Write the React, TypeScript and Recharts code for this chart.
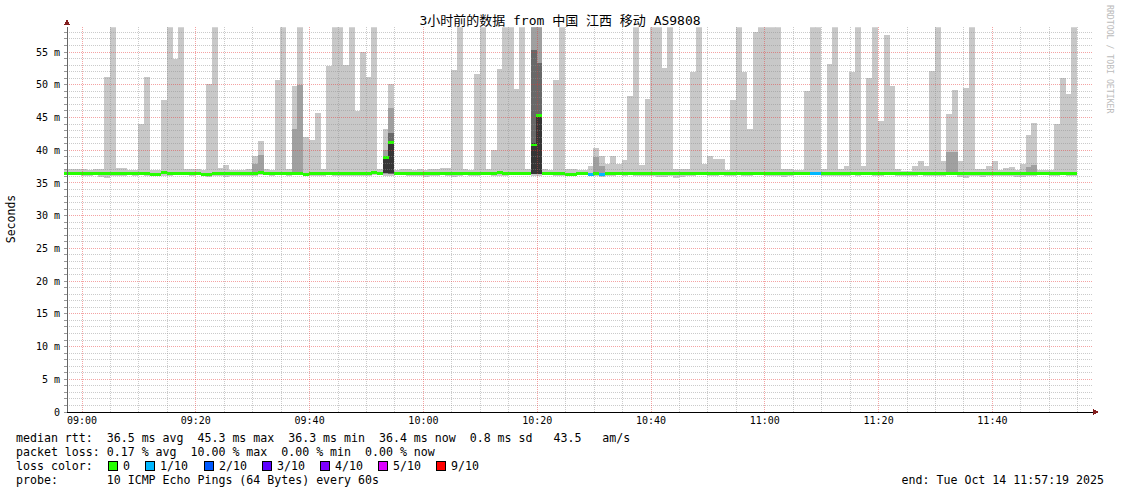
import React from "react"
import { ComposedChart, Bar, Cell, XAxis, YAxis, ReferenceLine } from "recharts"

// one column per minute, first column centred at 08:57:22 (minutes from 09:00)
const FIRST_MIN = -2.64
const LAST_MIN = 177.68

// top of the lightest smoke (max ping), ms
const HI = [
  37.1, 37.1, 37.1, 37.1, 37.0, 37.2, 37.2, 51.2, 62, 37.3,
  37.3, 37.0, 37.0, 44.0, 51.2, 37.0, 37.0, 47.6, 62, 54.0,
  62, 37.1, 37.1, 37.2, 37.0, 50.1, 62, 37.3, 37.7, 37.0,
  37.0, 37.0, 37.1, 39.1, 41.4, 37.1, 37.0, 50.7, 62, 37.2,
  49.8, 62, 42.0, 41.5, 45.7, 37.1, 52.9, 62, 62, 53.0,
  62, 46.0, 55.0, 51.2, 62, 37.1, 43.3, 50.1, 37.0, 37.1,
  37.1, 37.0, 37.1, 37.0, 37.1, 37.2, 37.3, 37.3, 52.3, 62,
  37.1, 37.0, 51.6, 62, 37.1, 40.0, 52.4, 62, 62, 49.4,
  62, 37.1, 62, 62, 37.1, 37.0, 50.8, 62, 37.1, 37.1,
  37.0, 37.0, 37.6, 40.3, 39.1, 37.9, 39.1, 37.9, 38.5, 48.3,
  62, 37.7, 47.9, 62, 62, 52.6, 62, 37.1, 37.1, 37.1,
  52.0, 62, 37.9, 39.1, 38.7, 38.7, 37.0, 47.7, 62, 52.0,
  43.2, 58.0, 62, 62, 62, 62, 37.2, 37.2, 37.0, 37.0,
  49.1, 62, 62, 37.2, 53.2, 62, 37.1, 37.6, 52.0, 62,
  37.6, 51.1, 62, 44.4, 57.6, 49.8, 37.1, 36.9, 36.9, 37.6,
  38.3, 37.6, 52.1, 62, 38.3, 45.5, 49.2, 38.3, 49.5, 62,
  37.1, 37.1, 37.6, 38.3, 37.0, 37.3, 37.4, 37.0, 37.9, 42.3,
  44.1, 37.0, 37.0, 37.0, 44.0, 51.1, 48.6, 62,
]

// bottom of the smoke (min ping), ms
const LO = [
  36.2, 36.2, 36.2, 36.1, 36.1, 36.2, 35.9, 35.8, 36.1, 36.1,
  36.1, 36.2, 36.0, 36.2, 36.1, 36.1, 36.2, 36.1, 36.1, 36.2,
  36.2, 36.2, 36.1, 36.2, 36.0, 35.9, 36.1, 36.0, 35.9, 36.1,
  36.1, 36.1, 36.1, 36.1, 36.2, 36.2, 36.1, 36.2, 36.2, 36.1,
  36.2, 36.2, 36.2, 36.1, 36.1, 36.1, 36.2, 36.1, 36.1, 36.1,
  36.1, 36.1, 36.1, 36.1, 36.2, 36.2, 36.1, 36.1, 36.2, 36.2,
  36.1, 36.1, 36.0, 35.9, 36.1, 36.1, 36.2, 36.0, 35.9, 36.1,
  36.2, 36.1, 36.1, 36.2, 36.2, 36.1, 36.1, 36.1, 36.2, 36.2,
  36.2, 36.2, 36.0, 36.1, 36.2, 36.2, 36.0, 36.1, 36.1, 36.2,
  36.2, 36.2, 36.1, 36.0, 35.9, 36.1, 36.1, 36.2, 36.1, 36.2,
  36.1, 36.1, 36.0, 36.1, 35.9, 35.9, 36.0, 35.8, 35.9, 36.1,
  36.1, 36.2, 36.2, 36.1, 36.1, 36.2, 36.1, 36.1, 36.2, 36.1,
  36.1, 36.2, 36.2, 36.1, 36.1, 36.1, 35.9, 36.0, 36.2, 36.2,
  36.2, 36.2, 36.2, 36.1, 36.1, 36.1, 36.1, 36.0, 36.2, 36.1,
  36.2, 36.2, 36.1, 36.1, 36.2, 36.2, 36.1, 36.1, 36.1, 36.1,
  36.2, 36.1, 36.0, 36.1, 36.1, 36.2, 36.2, 35.9, 35.8, 36.1,
  36.1, 35.9, 36.0, 36.1, 36.1, 36.1, 36.1, 35.9, 35.9, 36.1,
  36.1, 36.2, 36.2, 36.1, 36.1, 36.2, 36.1, 36.0,
]

// median rtt, ms
const MED = [
  36.4, 36.4, 36.4, 36.4, 36.4, 36.4, 36.4, 36.4, 36.4, 36.4,
  36.4, 36.4, 36.4, 36.4, 36.4, 36.35, 36.35, 36.55, 36.45, 36.5,
  36.5, 36.45, 36.4, 36.4, 36.35, 36.3, 36.4, 36.4, 36.4, 36.4,
  36.4, 36.4, 36.4, 36.45, 36.55, 36.45, 36.4, 36.4, 36.4, 36.4,
  36.4, 36.4, 36.35, 36.4, 36.4, 36.4, 36.4, 36.4, 36.4, 36.4,
  36.4, 36.4, 36.45, 36.45, 36.55, 36.45, 38.85, 41.2, 36.4, 36.4,
  36.4, 36.4, 36.4, 36.4, 36.4, 36.4, 36.4, 36.4, 36.4, 36.4,
  36.4, 36.4, 36.4, 36.45, 36.4, 36.5, 36.55, 36.5, 36.45, 36.4,
  36.4, 36.4, 40.8, 45.3, 36.4, 36.4, 36.4, 36.4, 36.35, 36.35,
  36.4, 36.4, 36.35, 36.4, 36.35, 36.4, 36.4, 36.45, 36.5, 36.5,
  36.5, 36.45, 36.4, 36.4, 36.4, 36.4, 36.4, 36.4, 36.4, 36.4,
  36.4, 36.4, 36.4, 36.5, 36.5, 36.4, 36.4, 36.4, 36.45, 36.4,
  36.4, 36.4, 36.4, 36.4, 36.4, 36.4, 36.4, 36.4, 36.4, 36.4,
  36.4, 36.4, 36.4, 36.4, 36.4, 36.4, 36.4, 36.5, 36.5, 36.4,
  36.5, 36.5, 36.5, 36.5, 36.5, 36.5, 36.5, 36.5, 36.5, 36.4,
  36.4, 36.4, 36.4, 36.4, 36.4, 36.5, 36.5, 36.4, 36.4, 36.4,
  36.4, 36.4, 36.4, 36.4, 36.4, 36.4, 36.4, 36.5, 36.5, 36.5,
  36.4, 36.4, 36.4, 36.4, 36.4, 36.5, 36.4, 36.4,
]

// columns where 1 of 10 pings was lost
const LOSS_1 = [92, 94, 131, 132]

// inner smoke layers [low, high] per column
const MID: Record<number, number[]> = {
  33: [36.3, 37.9], 34: [36.3, 39.3], 40: [36.3, 43.2], 41: [36.3, 50.0],
  56: [36.4, 40.1], 57: [36.4, 46.5], 82: [36.3, 62], 83: [36.3, 62],
  93: [36.3, 39.0], 94: [36.3, 37.6], 155: [36.3, 39.8], 156: [36.3, 39.8],
  169: [36.3, 37.5], 170: [36.3, 37.7],
}
const DARK: Record<number, number[]> = {
  57: [36.4, 42.6], 82: [36.3, 55.3], 83: [36.3, 53.4],
}
const CORE: Record<number, number[]> = {
  56: [36.5, 39.0], 57: [36.5, 41.2], 82: [36.3, 41.05], 83: [36.3, 45.4],
}

const TIME_TICKS = [0, 20, 40, 60, 80, 100, 120, 140, 160]
const TIME_LABELS = ["09:00", "09:20", "09:40", "10:00", "10:20", "10:40", "11:00", "11:20", "11:40"]
const MINOR_MIN = [5, 10, 15, 25, 30, 35, 45, 50, 55, 65, 70, 75, 85, 90, 95, 105, 110, 115, 125, 130, 135, 145, 150, 155, 165, 170, 175]
const Y_TICKS = Array.from({ length: 59 }, (_, i) => i)
const Y_MAX = 58.8

const LOSS_LEGEND = [
  { label: "0", color: "#26ff00", x: 108 },
  { label: "1/10", color: "#00b8ff", x: 145 },
  { label: "2/10", color: "#0059ff", x: 204 },
  { label: "3/10", color: "#5e00ff", x: 262 },
  { label: "4/10", color: "#7e00ff", x: 320 },
  { label: "5/10", color: "#dd00ff", x: 378 },
  { label: "9/10", color: "#ff0000", x: 436 },
]

const W = 1121
const H = 494
const mono = "'DejaVu Sans Mono', 'Noto Sans CJK SC', monospace"

const rows = Array.from({ length: 181 }, (_, i) => ({
  i,
  t: FIRST_MIN + i,
  smoke: i < HI.length ? [LO[i], HI[i]] : null,
  mid: MID[i] ?? null,
  dark: DARK[i] ?? null,
  core: CORE[i] ?? null,
  med: i < MED.length ? [MED[i] - 0.22, MED[i] + 0.22] : null,
  loss: LOSS_1.includes(i) ? 1 : 0,
}))

const LAYERS = [
  { id: "smoke", fill: "#c8c8c8" },
  { id: "mid", fill: "#a0a0a0" },
  { id: "dark", fill: "#686868" },
  { id: "core", fill: "#363636" },
]

const gridGray = { stroke: "#8c8c8c", strokeOpacity: 0.45, strokeDasharray: "1 1" }
const gridRed = { stroke: "#e63232", strokeOpacity: 0.45, strokeDasharray: "1 1" }

const pre = { whiteSpace: "pre" as const }

export default function App() {
  return (
    <div
      style={{
        position: "absolute",
        left: 0,
        top: 0,
        width: W,
        height: H,
        background: "#fff",
        shapeRendering: "crispEdges",
      }}
    >
      <ComposedChart
        width={W}
        height={H}
        data={rows}
        margin={{ top: 27.2, right: 28, bottom: 52, left: 7 }}
        barCategoryGap={0}
        barGap={0}
      >
        <XAxis
          xAxisId="t"
          dataKey="t"
          type="number"
          domain={[FIRST_MIN, LAST_MIN]}
          allowDataOverflow
          ticks={TIME_TICKS}
          interval={0}
          tickFormatter={(v: number) => TIME_LABELS[TIME_TICKS.indexOf(v)] ?? ""}
          axisLine={{ stroke: "#000" }}
          tickLine={false}
          tickSize={0}
          tickMargin={5}
          height={30}
          tick={{ fontSize: 10, fontFamily: mono, fill: "#000" }}
        />
        {[...LAYERS.map((l) => l.id), "med"].map((id) => (
          <XAxis
            key={id}
            xAxisId={id}
            dataKey="i"
            type="category"
            hide
            height={0}
            padding={{ left: -2.845, right: -1.04 }}
          />
        ))}
        <YAxis
          type="number"
          domain={[0, Y_MAX]}
          allowDataOverflow
          ticks={Y_TICKS}
          interval={0}
          width={60}
          tickFormatter={(v: number) => (v === 0 ? "0" : v % 5 === 0 ? `${v} m` : "")}
          axisLine={{ stroke: "#666" }}
          tickLine={{ stroke: "#999" }}
          tickSize={3}
          tickMargin={4}
          tick={{ fontSize: 10, fontFamily: mono, fill: "#000" }}
        />
        {LAYERS.map((l) => (
          <Bar
            key={l.id}
            xAxisId={l.id}
            dataKey={l.id}
            fill={l.fill}
            isAnimationActive={false}
          />
        ))}
        {MINOR_MIN.map((m) => (
          <ReferenceLine key={"vx" + m} xAxisId="t" x={m} {...gridGray} />
        ))}
        {Y_TICKS.filter((v) => v > 0 && v % 5 !== 0).map((v) => (
          <ReferenceLine key={"hy" + v} xAxisId="t" y={v} {...gridGray} />
        ))}
        {TIME_TICKS.map((m) => (
          <ReferenceLine key={"VX" + m} xAxisId="t" x={m} {...gridRed} />
        ))}
        {Y_TICKS.filter((v) => v > 0 && v % 5 === 0).map((v) => (
          <ReferenceLine key={"HY" + v} xAxisId="t" y={v} {...gridRed} />
        ))}
        <Bar xAxisId="med" dataKey="med" isAnimationActive={false}>
          {rows.map((r) => (
            <Cell key={r.i} fill={r.loss ? "#00b8ff" : "#26ff00"} />
          ))}
        </Bar>
      </ComposedChart>

      <svg
        width={W}
        height={H}
        style={{ position: "absolute", left: 0, top: 0, pointerEvents: "none" }}
      >
        <polygon points="64,25 70,25 67,19" fill="#821e1e" />
        <polygon points="1093,409 1093,415 1099,412" fill="#821e1e" />
        <text x={560} y={25} textAnchor="middle" fontFamily={mono} fontSize={13} fill="#000">
          3小时前的数据 from 中国 江西 移动 AS9808
        </text>
        <text
          transform="translate(15,219) rotate(-90)"
          textAnchor="middle"
          fontFamily={mono}
          fontSize={11.5}
          fill="#000"
        >
          Seconds
        </text>
        <text
          transform="translate(1107,5) rotate(90)"
          fontFamily={mono}
          fontSize={8.2}
          fill="#bbb"
        >
          RRDTOOL / TOBI OETIKER
        </text>
        <g fontFamily={mono} fontSize={11.6} fill="#000">
          <text x={16} y={442} xmlSpace="preserve" style={pre}>
            {"median rtt:  36.5 ms avg  45.3 ms max  36.3 ms min  36.4 ms now  0.8 ms sd   43.5   am/s"}
          </text>
          <text x={16} y={456} xmlSpace="preserve" style={pre}>
            {"packet loss: 0.17 % avg  10.00 % max  0.00 % min  0.00 % now"}
          </text>
          <text x={16} y={470} xmlSpace="preserve" style={pre}>
            {"loss color:"}
          </text>
          {LOSS_LEGEND.map((l) => (
            <g key={l.label}>
              <rect x={l.x + 0.5} y={461.5} width={9} height={9} fill={l.color} stroke="#000" />
              <text x={l.x + 15} y={470}>
                {l.label}
              </text>
            </g>
          ))}
          <text x={16} y={484} xmlSpace="preserve" style={pre}>
            {"probe:       10 ICMP Echo Pings (64 Bytes) every 60s"}
          </text>
          <text x={1104} y={484} textAnchor="end" xmlSpace="preserve" style={pre}>
            {"end: Tue Oct 14 11:57:19 2025"}
          </text>
        </g>
      </svg>
    </div>
  )
}
